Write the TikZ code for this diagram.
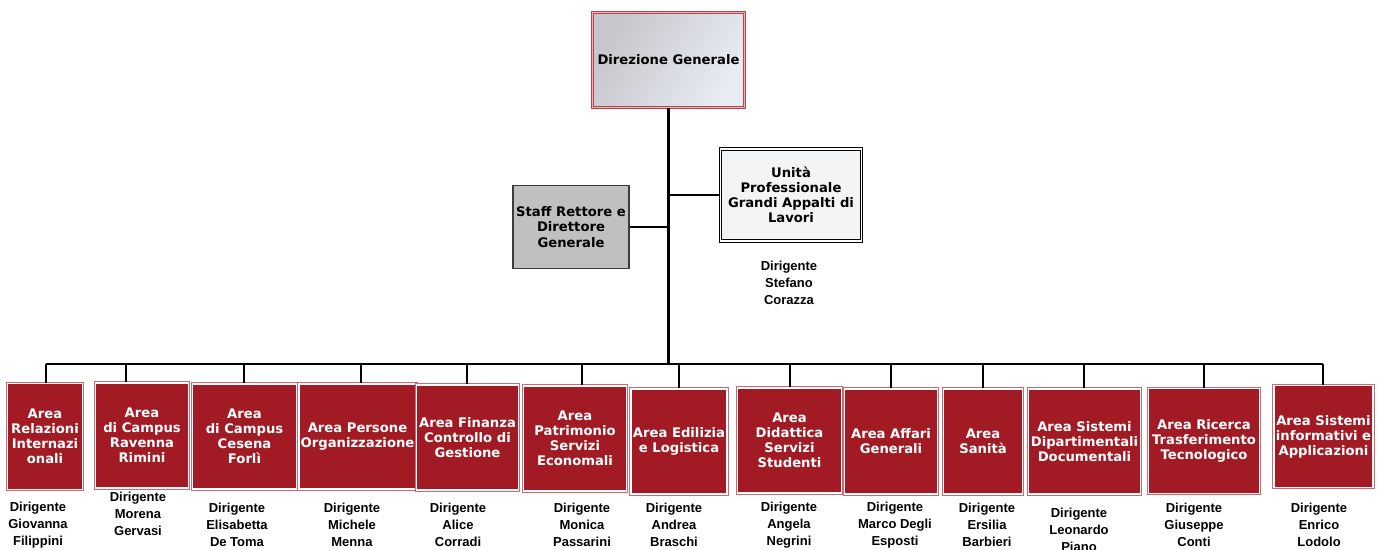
\documentclass[tikz,border=0pt]{standalone}
\usepackage{fontspec}
\setmainfont{Liberation Sans}
\newfontfamily\boxfont{DejaVu Sans}
\definecolor{area_red}{RGB}{162,27,36}
\definecolor{area_edge}{RGB}{205,105,112}
\definecolor{dg_edge}{RGB}{190,65,78}
\definecolor{dg_dark}{RGB}{198,198,204}
\definecolor{dg_light}{RGB}{232,236,243}
\definecolor{up_fill}{RGB}{242,244,246}
\definecolor{staff_fill}{RGB}{192,192,192}
\definecolor{staff_edge}{RGB}{60,60,60}

\begin{document}
\begin{tikzpicture}[x=0.02cm,y=-0.02cm,semithick]
    \tikzstyle{box}=[inner sep=1pt, align=center, text=black, font=\boxfont\bfseries\fontsize{7.5}{8.6}\selectfont]
    \tikzstyle{areabox}=[style=box, text=white, fill=area_red, draw=white, line width=0.9pt, preaction={draw=area_edge, line width=2pt}, minimum height=2.10cm]
    \tikzstyle{dgbox}=[style=box, left color=dg_dark, right color=dg_light, shading angle=60, draw=dg_edge, line width=0.75pt, double=white!60!dg_edge, double distance=0.6pt]
    \tikzstyle{upbox}=[style=box, fill=up_fill, draw=black, line width=0.5pt, double=white, double distance=0.9pt]
    \tikzstyle{staffbox}=[style=box, fill=staff_fill, draw=staff_edge, line width=0.6pt]
    \tikzstyle{dirtext}=[align=center, inner sep=0pt, font=\bfseries\fontsize{7.4}{9.6}\selectfont]
    \tikzstyle{link}=[line width=1.25pt, black]

    \useasboundingbox (0,0) rectangle (1381,549);
    \clip (0,0) rectangle (1381,549);

    % top of the chart
    \node[dgbox, minimum width=3.04cm, minimum height=1.90cm] (dg) at (668.5,60) {Direzione Generale};
    \node[upbox, minimum width=2.82cm, minimum height=1.84cm] (up) at (791,195) {Unità\\Professionale\\Grandi Appalti di\\Lavori};
    \node[staffbox, minimum width=2.32cm, minimum height=1.66cm] (staff) at (571,227) {Staff Rettore e\\Direttore\\Generale};
    \node[dirtext] (up_dir) at (789,283) {Dirigente\\Stefano\\Corazza};

    % areas
    \node[areabox, minimum width=1.50cm, minimum height=2.12cm] (rel) at (45,436.5)  {Area\\Relazioni\\Internazi\\onali};
    \node[areabox, minimum width=1.86cm] (rav) at (142,435.5)  {Area\\di Campus\\Ravenna\\Rimini};
    \node[areabox, minimum width=2.08cm] (ces) at (244.5,436.5) {Area\\di Campus\\Cesena\\Forlì};
    \node[areabox, minimum width=2.20cm] (per) at (357.5,436.5) {Area Persone\\Organizzazione};
    \node[areabox, minimum width=2.04cm] (fin) at (467.5,437.5) {Area Finanza\\Controllo di\\Gestione};
    \node[areabox, minimum width=2.06cm] (pat) at (575,438.5)   {Area\\Patrimonio\\Servizi\\Economali};
    \node[areabox, minimum width=1.86cm] (edi) at (679,441.5)   {Area Edilizia\\e Logistica};
    \node[areabox, minimum width=2.08cm] (did) at (789.5,440.5) {Area\\Didattica\\Servizi\\Studenti};
    \node[areabox, minimum width=1.86cm] (aff) at (891,441.5)   {Area Affari\\Generali};
    \node[areabox, minimum width=1.58cm] (san) at (983,441.5)   {Area\\Sanità};
    \node[areabox, minimum width=2.24cm] (sdd) at (1084.5,441.5) {Area Sistemi\\Dipartimentali\\Documentali};
    \node[areabox, minimum width=2.22cm, minimum height=2.10cm] (ric) at (1204,441) {Area Ricerca\\Trasferimento\\Tecnologico};
    \node[areabox, minimum width=1.96cm, minimum height=2.04cm] (sia) at (1323.5,436.5) {Area Sistemi\\informativi e\\Applicazioni};

    % managers
    \node[dirtext] (rel_dir) at (38,525)   {Dirigente\\Giovanna\\Filippini};
    \node[dirtext] (rav_dir) at (138,514)  {Dirigente\\Morena\\Gervasi};
    \node[dirtext] (ces_dir) at (237,525)  {Dirigente\\Elisabetta\\De Toma};
    \node[dirtext] (per_dir) at (352,525)  {Dirigente\\Michele\\Menna};
    \node[dirtext] (fin_dir) at (458,525)  {Dirigente\\Alice\\Corradi};
    \node[dirtext] (pat_dir) at (582,525)  {Dirigente\\Monica\\Passarini};
    \node[dirtext] (edi_dir) at (674,525)  {Dirigente\\Andrea\\Braschi};
    \node[dirtext] (did_dir) at (789,525)  {Dirigente\\Angela\\Negrini};
    \node[dirtext] (aff_dir) at (895,525)  {Dirigente\\Marco Degli\\Esposti};
    \node[dirtext] (san_dir) at (987,525)  {Dirigente\\Ersilia\\Barbieri};
    \node[dirtext] (sdd_dir) at (1079,530) {Dirigente\\Leonardo\\Piano};
    \node[dirtext] (ric_dir) at (1194,525) {Dirigente\\Giuseppe\\Conti};
    \node[dirtext] (sia_dir) at (1319,525) {Dirigente\\Enrico\\Lodolo};

    % connectors
    \coordinate (bus_w) at (46,364);
    \coordinate (bus_e) at (1323,364);
    \draw[link] (dg.south) -- (dg.south |- bus_w);
    \draw[link] (up.west) -- (up.west -| dg.south);
    \draw[link] (staff.east) -- (staff.east -| dg.south);
    \draw[link] (bus_w) -- (bus_e);
    \foreach \n/\x in {rel/46, rav/126, ces/244, per/361, fin/467, pat/582, edi/679,
                       did/790, aff/891, san/983, sdd/1084, ric/1204, sia/1323}
      {
        \coordinate (tap_\n) at (\x,364);
        \draw[link] (tap_\n) -- (tap_\n |- \n.north);
      }
\end{tikzpicture}
\end{document}
